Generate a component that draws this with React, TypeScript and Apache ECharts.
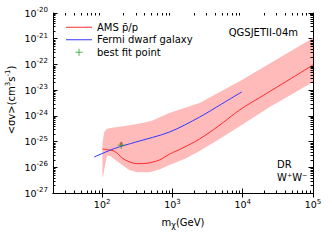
import React, { useEffect, useRef } from 'react';
import * as echarts from 'echarts';

// AMS pbar/p best-fit line
const amsMass = [101, 128, 148, 170, 193, 240, 316, 450, 650, 906, 1400, 2430, 4500, 9060, 20000, 50000, 100000];
const amsSigma = [5.13e-26, 4.68e-26, 4.27e-26, 3.24e-26, 2.29e-26, 1.66e-26, 1.38e-26, 1.45e-26, 1.91e-26, 3.24e-26, 5.62e-26, 1.26e-25, 3.98e-25, 1.7e-24, 6.46e-24, 2.95e-23, 9.55e-23];

// Fermi dwarf galaxy limit
const fermiMass = [77, 150, 300, 906, 2430, 5000, 9680];
const fermiSigma = [2.51e-26, 5.37e-26, 9.55e-26, 2.34e-25, 8.91e-25, 2.88e-24, 8.51e-24];

// AMS band (upper / lower edges)
const bandUpperMass = [101, 104, 107, 116, 130, 199, 316, 501, 906, 2430, 9060, 100000];
const bandUpper = [8.7e-26, 1.51e-25, 2.34e-25, 3.09e-25, 3.39e-25, 3.98e-25, 4.79e-25, 6.31e-25, 1.29e-24, 3.16e-24, 2.24e-23, 1.07e-21];
const bandLowerMass = [101, 104, 110, 118, 130, 148, 193, 243, 316, 469, 652, 906, 1483, 2430, 4670, 9060, 24200, 100000];
const bandLower = [3.8e-27, 5.0e-27, 1.23e-26, 2.95e-26, 2.75e-26, 2.09e-26, 1.23e-26, 7.76e-27, 6.46e-27, 6.46e-27, 8.13e-27, 1.23e-26, 2.09e-26, 4.27e-26, 1.26e-25, 3.98e-25, 2.19e-24, 2.09e-23];

// best fit point
const bestFit = [187, 7.2e-26];

// axes
const xMin = 20;
const xMax = 1e5;
const yMin = 1e-27;
const yMax = 1e-20;
const xTickValues = [100, 1000, 10000, 100000];
const yTickValues = [1e-27, 1e-26, 1e-25, 1e-24, 1e-23, 1e-22, 1e-21, 1e-20];
const xDecades = [1, 2, 3, 4];
const yDecades = [-27, -26, -25, -24, -23, -22, -21];
const minorMultipliers = [2, 3, 4, 5, 6, 7, 8, 9];

const FONT = 'DejaVu Sans';

export default function App() {
  const ref = useRef<HTMLDivElement>(null);
  useEffect(() => {
    if (!ref.current) return;
    const chart = echarts.init(ref.current, undefined, { renderer: 'svg' });

    const minorData: number[][] = [];
    xDecades.forEach((d) => minorMultipliers.forEach((k) => {
      const v = k * Math.pow(10, d);
      if (v > xMin && v < xMax) minorData.push([v, yMin, 0]);
    }));
    yDecades.forEach((d) => minorMultipliers.forEach((k) => {
      const v = k * Math.pow(10, d);
      if (v > yMin && v < yMax) minorData.push([xMin, v, 1]);
    }));

    const labelFmt = (v: number) => `{b|10}{s|${Math.round(Math.log10(v))}}`;
    const labelRich = {
      b: { fontSize: 9.5, fontFamily: FONT, color: '#000', lineHeight: 13 },
      s: { fontSize: 7, fontFamily: FONT, color: '#000', lineHeight: 7, verticalAlign: 'top' },
    };
    const axisLine = { show: true, lineStyle: { color: '#000', width: 1 } };
    const xTick = { show: true, inside: true, length: 4.5, customValues: xTickValues, lineStyle: { color: '#000', width: 1 } };
    const yTick = { show: true, inside: true, length: 4.5, customValues: yTickValues, lineStyle: { color: '#000', width: 1 } };
    const lineIcon = 'path://M0,0H26V1H0Z';

    const option: any = {
      animation: false,
      backgroundColor: '#fff',
      grid: { left: 53, top: 13, right: 19, bottom: 49, outerBoundsMode: 'none' },
      legend: {
        left: 61,
        top: 16,
        orient: 'vertical',
        itemWidth: 26,
        itemHeight: 7,
        itemGap: 0,
        symbolKeepAspect: true,
        textStyle: { fontFamily: FONT, fontSize: 10, color: '#000', lineHeight: 12.5 },
        data: [
          { name: 'AMS p\u0304/p', icon: lineIcon },
          { name: 'Fermi dwarf galaxy', icon: lineIcon },
          { name: 'best fit point' },
        ],
      },
      xAxis: [
        {
          type: 'log', min: xMin, max: xMax, position: 'bottom',
          axisLine, axisTick: xTick, splitLine: { show: false },
          axisLabel: { customValues: xTickValues, margin: 5, formatter: labelFmt, rich: labelRich },
          name: 'm{sub|\u03c7}(GeV)', nameLocation: 'middle', nameGap: 23,
          nameTextStyle: {
            fontFamily: FONT, fontSize: 10, color: '#000', lineHeight: 13,
            rich: { sub: { fontFamily: FONT, fontSize: 8, color: '#000', lineHeight: 8, verticalAlign: 'bottom' } },
          },
        },
        {
          type: 'log', min: xMin, max: xMax, position: 'top',
          axisLine, axisTick: xTick, splitLine: { show: false }, axisLabel: { show: false },
        },
      ],
      yAxis: [
        {
          type: 'log', min: yMin, max: yMax, position: 'left',
          axisLine, axisTick: yTick, splitLine: { show: false },
          axisLabel: { customValues: yTickValues, margin: 5, formatter: labelFmt, rich: labelRich },
        },
        {
          type: 'log', min: yMin, max: yMax, position: 'right',
          axisLine, axisTick: yTick, splitLine: { show: false }, axisLabel: { show: false },
        },
      ],
      series: [
        {
          type: 'custom',
          name: 'band',
          silent: true,
          z: 1,
          data: [[bandUpperMass[0], bandUpper[0]]],
          renderItem: (params: any, api: any) => {
            const pts: number[][] = [];
            bandUpperMass.forEach((m, i) => pts.push(api.coord([m, bandUpper[i]])));
            for (let i = bandLowerMass.length - 1; i >= 0; i--) pts.push(api.coord([bandLowerMass[i], bandLower[i]]));
            return { type: 'polygon', shape: { points: pts }, style: { fill: '#ffbaba', stroke: 'none' } };
          },
        },
        {
          type: 'custom',
          name: 'minorTicks',
          silent: true,
          z: 5,
          data: minorData,
          renderItem: (params: any, api: any) => {
            const cs = params.coordSys;
            const kind = api.value(2);
            const len = 2.5;
            const st = { stroke: '#000', lineWidth: 1 };
            if (kind === 0) {
              const p = api.coord([api.value(0), yMin]);
              const x = Math.round(p[0]) + 0.5;
              return {
                type: 'group', children: [
                  { type: 'line', shape: { x1: x, y1: cs.y + cs.height, x2: x, y2: cs.y + cs.height - len }, style: st },
                  { type: 'line', shape: { x1: x, y1: cs.y, x2: x, y2: cs.y + len }, style: st },
                ],
              };
            }
            const p = api.coord([xMin, api.value(1)]);
            const y = Math.round(p[1]) + 0.5;
            return {
              type: 'group', children: [
                { type: 'line', shape: { x1: cs.x, y1: y, x2: cs.x + len, y2: y }, style: st },
                { type: 'line', shape: { x1: cs.x + cs.width, y1: y, x2: cs.x + cs.width - len, y2: y }, style: st },
              ],
            };
          },
        },
        {
          type: 'line',
          name: 'AMS p\u0304/p',
          data: amsMass.map((m, i) => [m, amsSigma[i]]),
          symbol: 'none',
          smooth: 0.3,
          z: 3,
          lineStyle: { color: '#ff2a2a', width: 1 },
          itemStyle: { color: '#ff2a2a' },
        },
        {
          type: 'line',
          name: 'Fermi dwarf galaxy',
          data: fermiMass.map((m, i) => [m, fermiSigma[i]]),
          symbol: 'none',
          smooth: 0.3,
          z: 3,
          lineStyle: { color: '#3535ff', width: 1 },
          itemStyle: { color: '#3535ff' },
        },
        {
          type: 'scatter',
          name: 'bestFitMarker',
          data: [bestFit],
          symbol: 'circle',
          symbolSize: 3.5,
          symbolOffset: [0, -1.5],
          z: 4,
          itemStyle: { color: '#ff4040' },
        },
        {
          type: 'scatter',
          name: 'best fit point',
          data: [bestFit],
          symbol: 'path://M3,0H4V3H7V4H4V7H3V4H0V3H3Z',
          symbolSize: 7,
          symbolKeepAspect: true,
          z: 5,
          itemStyle: { color: '#22a022' },
        },
      ],
      graphic: [
        {
          type: 'text', x: 11, y: 100, rotation: Math.PI / 2,
          style: {
            text: '<\u03c3v>(cm{sup|3}s{sup|-1})', fontFamily: FONT, fontSize: 10, fill: '#000', lineHeight: 13,
            align: 'center', verticalAlign: 'middle',
            rich: { sup: { fontFamily: FONT, fontSize: 7, fill: '#000', lineHeight: 7, verticalAlign: 'top' } },
          },
        },
        { type: 'text', right: 34, top: 27, style: { text: 'QGSJETII-04m', fontFamily: FONT, fontSize: 10, fill: '#000' } },
        { type: 'text', left: 277, top: 159, style: { text: 'DR', fontFamily: FONT, fontSize: 10, fill: '#000', align: 'center', verticalAlign: 'middle' } },
        { type: 'text', left: 277, top: 172, style: { text: 'W\u207aW\u207b', fontFamily: FONT, fontSize: 10, fill: '#000', align: 'center', verticalAlign: 'middle' } },
      ],
    };
    chart.setOption(option);
    return () => chart.dispose();
  }, []);
  return <div ref={ref} style={{ position: 'fixed', left: 0, top: 0, width: 332, height: 242, background: '#fff' }} />;
}
